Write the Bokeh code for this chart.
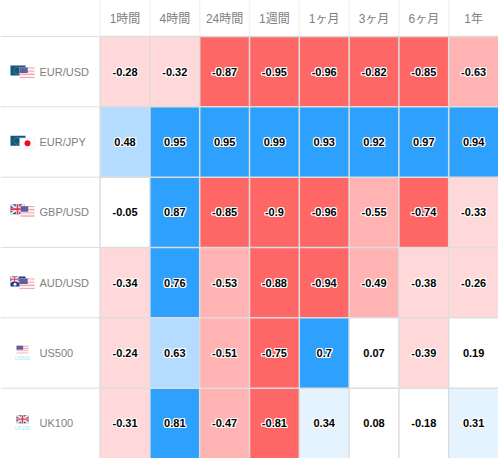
from bokeh.plotting import figure
from bokeh.embed import file_html
from bokeh.resources import INLINE
from bokeh.core.properties import value
from bokeh.models import ColumnDataSource, Range1d

columns = ["1時間", "4時間", "24時間", "1週間", "1ヶ月", "3ヶ月", "6ヶ月", "1年"]
rows = ["EUR/USD", "EUR/JPY", "GBP/USD", "AUD/USD", "US500", "UK100"]
eurusd = [-0.28, -0.32, -0.87, -0.95, -0.96, -0.82, -0.85, -0.63]
eurjpy = [0.48, 0.95, 0.95, 0.99, 0.93, 0.92, 0.97, 0.94]
gbpusd = [-0.05, 0.87, -0.85, -0.9, -0.96, -0.55, -0.74, -0.33]
audusd = [-0.34, 0.76, -0.53, -0.88, -0.94, -0.49, -0.38, -0.26]
us500 = [-0.24, 0.63, -0.51, -0.75, 0.7, 0.07, -0.39, 0.19]
uk100 = [-0.31, 0.81, -0.47, -0.81, 0.34, 0.08, -0.18, 0.31]
table = [eurusd, eurjpy, gbpusd, audusd, us500, uk100]

W, H = 498, 458
HEAD = 36
ROW = (H - HEAD) / 6
COL = W / 10


def colour(v):
    a = abs(v)
    if a < 0.2:
        return "#ffffff"
    if v > 0:
        return "#e5f3ff" if a < 0.4 else "#b3dcff" if a < 0.7 else "#2ea1ff"
    return "#ffd9d9" if a < 0.4 else "#ffb3b3" if a < 0.7 else "#ff6666"


p = figure(width=W, height=H, output_backend="svg", toolbar_location=None,
           x_range=Range1d(-2, 8), y_range=Range1d(6, -HEAD / ROW),
           min_border=0, outline_line_color=None)
p.axis.visible = False
p.grid.visible = False
p.background_fill_color = "#ffffff"
p.border_fill_color = "#ffffff"

xs, ys, cols, labels = [], [], [], []
for r, vals in enumerate(table):
    for c, v in enumerate(vals):
        xs.append(c + 0.5)
        ys.append(r + 0.5)
        cols.append(colour(v))
        labels.append(str(v))
src = ColumnDataSource(dict(x=xs, y=ys, color=cols, label=labels))
p.rect("x", "y", width=1, height=1, source=src, fill_color="color", line_color=None)

# grid lines
n_rows, n_cols = len(rows), len(columns)
p.segment(x0=[c for c in range(n_cols)], y0=[0] * n_cols, x1=[c for c in range(n_cols)],
          y1=[n_rows] * n_cols, line_color="#dddddd", line_width=1.5)
p.segment(x0=[c for c in range(n_cols)], y0=[-HEAD / ROW] * n_cols, x1=[c for c in range(n_cols)],
          y1=[0] * n_cols, line_color="#f2f2f2", line_width=1.5)
p.segment(x0=[-2] * n_rows, y0=list(range(n_rows)), x1=[0] * n_rows, y1=list(range(n_rows)),
          line_color="#dddddd", line_width=1)
p.segment(x0=[0] * n_rows, y0=list(range(n_rows)), x1=[8] * n_rows, y1=list(range(n_rows)),
          line_color="#dddddd", line_width=1.5)

# cell numbers with white halo
for dx, dy in [(-1, 0), (1, 0), (0, -1), (0, 1), (-1, -1), (1, 1), (-1, 1), (1, -1)]:
    p.text("x", "y", text="label", source=src, text_color="#ffffff", x_offset=dx, y_offset=dy,
           text_font=value("Liberation Sans"), text_font_size="11px", text_font_style="bold",
           text_align="center", text_baseline="middle")
p.text("x", "y", text="label", source=src, text_color="#000000",
       text_font=value("Liberation Sans"), text_font_size="11px", text_font_style="bold",
       text_align="center", text_baseline="middle")

# headers
p.text([c + 0.5 for c in range(n_cols)], [-HEAD / ROW / 2] * n_cols, text=columns,
       text_color="#808080", text_font=value("Liberation Sans, Noto Sans CJK JP"),
       text_font_size="12px", text_align="center", text_baseline="middle")

# row labels
p.text([-2 + 39 / COL] * n_rows, [r + 0.5 for r in range(n_rows)], text=rows,
       text_color="#808080", text_font=value("Liberation Sans"), text_font_size="11px",
       text_align="left", text_baseline="middle")


def box(r, x0, y0, x1, y1, color, alpha=1.0):
    """Decoration in pixels: x from the left edge, y from the row's top."""
    p.quad(left=[-2 + x0 / COL], right=[-2 + x1 / COL], top=[r + y0 / ROW], bottom=[r + y1 / ROW],
           fill_color=color, fill_alpha=alpha, line_color=None)


def us(r, x0, y0, w, h):
    stripes = 7
    box(r, x0, y0, x0 + w, y0 + h, "#fdf1f1")
    for i in range(stripes):
        if i % 2 == 0:
            box(r, x0, y0 + i * h / stripes, x0 + w, y0 + (i + 0.55) * h / stripes, "#ec8f98")
    box(r, x0, y0, x0 + w * 0.55, y0 + h * 0.5, "#625f9f")


def eu(r, x0, y0, w, h):
    box(r, x0, y0, x0 + w, y0 + h, "#0f5688")
    p.scatter([-2 + (x0 + w * 0.45) / COL], [r + (y0 + h * 0.5) / ROW], size=7, marker="circle",
              fill_color=None, line_color="#4f7a4a", line_width=1)


def uk(r, x0, y0, w, h):
    box(r, x0, y0, x0 + w, y0 + h, "#3a3f86")
    p.line([-2 + x0 / COL, -2 + (x0 + w) / COL],
           [r + y0 / ROW, r + (y0 + h) / ROW], line_color="#f6e6ea", line_width=2)
    p.line([-2 + x0 / COL, -2 + (x0 + w) / COL],
           [r + (y0 + h) / ROW, r + y0 / ROW], line_color="#f6e6ea", line_width=2)
    box(r, x0, y0 + h * 0.35, x0 + w, y0 + h * 0.65, "#fbeef0")
    box(r, x0 + w * 0.38, y0, x0 + w * 0.62, y0 + h, "#fbeef0")
    box(r, x0, y0 + h * 0.42, x0 + w, y0 + h * 0.58, "#d9364f")
    box(r, x0 + w * 0.44, y0, x0 + w * 0.56, y0 + h, "#d9364f")


def au(r, x0, y0, w, h):
    box(r, x0, y0, x0 + w, y0 + h, "#1d3a8f")
    uk(r, x0, y0, w * 0.55, h * 0.55)
    p.scatter([-2 + (x0 + w * 0.3) / COL], [r + (y0 + h * 0.78) / ROW], size=3,
              marker="circle", fill_color="#ffffff", line_color=None)


def small_label(r, y0, txt, x):
    p.text([-2 + x / COL], [r + y0 / ROW], text=[txt], text_color="#a8e4f5",
           text_font=value("Liberation Sans"), text_font_size="5px",
           text_align="center", text_baseline="middle")


# EUR/USD
eu(0, 10, 29, 15, 10)
us(0, 19, 31, 15, 11)
# EUR/JPY
eu(1, 10, 29, 15, 10)
box(1, 19, 31, 34, 42, "#f1f1f1")
box(1, 20, 32, 33, 41, "#ffffff")
p.scatter([-2 + 27 / COL], [1 + 36.5 / ROW], size=6, marker="circle",
          fill_color="#ee0a24", line_color=None)
# GBP/USD
uk(2, 10, 27, 14, 10)
us(2, 20, 29, 14, 11)
# AUD/USD
au(3, 10, 29, 15, 10)
us(3, 19, 31, 15, 11)
# US500
us(4, 16, 28, 12, 8)
small_label(4, 40.5, "US500", 22)
# UK100
uk(5, 16, 27, 12, 8)
small_label(5, 40, "UK100", 22)

open("out.html", "w").write(file_html(p, INLINE))
